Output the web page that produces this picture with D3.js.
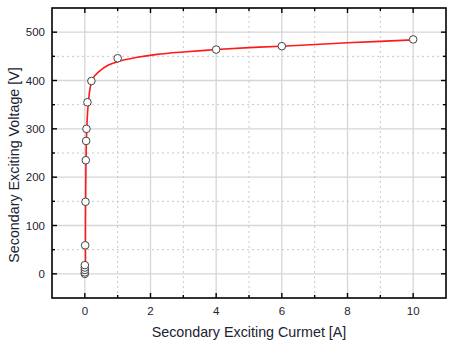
<!DOCTYPE html>
<html lang="en">
<head>
    <meta charset="UTF-8">
    <title>Secondary Exciting Characteristic</title>
    <script src="https://d3js.org/d3.v7.min.js"></script>
    <style>
        body {
            margin: 0;
            background: #fff;
            font-family: "Liberation Sans", Arial, sans-serif;
        }
        .tick-label { font-size: 11.5px; fill: #1c2333; }
        .axis-title { font-size: 14.3px; fill: #1c2333; }
    </style>
</head>
<body>
    <div id="chart"></div>

    <script>
        // Dati misurati (corrente [A], tensione [V])
        const currentA = [0, 0, 0, 0, 0, 0.01, 0.02, 0.03, 0.04, 0.05, 0.08, 0.2, 1, 4, 6, 10];
        const voltageV = [0, 3, 8, 13, 18, 59, 149, 235, 275, 300, 355, 399, 446, 464, 471, 485];

        // Curva di fit
        const fitX = [0.02, 0.02, 0.03, 0.05, 0.08, 0.11, 0.16, 0.25, 0.42, 0.72, 1.0, 1.6, 2.2, 3, 4, 5, 6, 8, 10];
        const fitY = [0, 100, 200, 280, 330, 355, 384, 405, 418, 432, 439, 448, 454, 459, 464, 468, 471, 478, 484];

        // Tick
        const xMajor = [0, 2, 4, 6, 8, 10];
        const xMinor = [1, 3, 5, 7, 9];
        const yMajor = [0, 100, 200, 300, 400, 500];
        const yMinor = [50, 150, 250, 350, 450];

        const width = 457, height = 349;
        const margin = { left: 52, right: 11, top: 8, bottom: 51 };

        const svg = d3.select("#chart")
            .append("svg")
            .attr("width", width)
            .attr("height", height);

        const x = d3.scaleLinear().domain([-1, 11]).range([margin.left, width - margin.right]);
        const y = d3.scaleLinear().domain([-50, 550]).range([height - margin.bottom, margin.top]);

        const x0 = margin.left, x1 = width - margin.right;
        const y0 = height - margin.bottom, y1 = margin.top;

        // Griglia: principale continua, secondaria a punti
        const grid = svg.append("g");
        grid.selectAll(".gx").data(xMajor).enter().append("line")
            .attr("x1", d => x(d)).attr("x2", d => x(d))
            .attr("y1", y0).attr("y2", y1)
            .attr("stroke", "#d6d6d6").attr("stroke-width", 1.3);
        grid.selectAll(".gy").data(yMajor).enter().append("line")
            .attr("x1", x0).attr("x2", x1)
            .attr("y1", d => y(d)).attr("y2", d => y(d))
            .attr("stroke", "#d6d6d6").attr("stroke-width", 1.3);
        grid.selectAll(".mx").data(xMinor).enter().append("line")
            .attr("x1", d => x(d)).attr("x2", d => x(d))
            .attr("y1", y0).attr("y2", y1)
            .attr("stroke", "#c8c8c8").attr("stroke-width", 1)
            .attr("stroke-dasharray", "2,3");
        grid.selectAll(".my").data(yMinor).enter().append("line")
            .attr("x1", x0).attr("x2", x1)
            .attr("y1", d => y(d)).attr("y2", d => y(d))
            .attr("stroke", "#c8c8c8").attr("stroke-width", 1)
            .attr("stroke-dasharray", "2,3");

        // Curva
        const fitData = fitX.map((d, i) => [d, fitY[i]]);
        const line = d3.line()
            .x(d => x(d[0]))
            .y(d => y(d[1]))
            .curve(d3.curveCatmullRom.alpha(0.5));
        svg.append("path")
            .datum(fitData)
            .attr("d", line)
            .attr("fill", "none")
            .attr("stroke", "#ff1a1a")
            .attr("stroke-width", 1.6);

        // Punti
        const pts = currentA.map((d, i) => [d, voltageV[i]]);
        svg.selectAll(".pt").data(pts).enter().append("circle")
            .attr("cx", d => x(d[0]))
            .attr("cy", d => y(d[1]))
            .attr("r", 3.8)
            .attr("fill", "#fff")
            .attr("stroke", "#444")
            .attr("stroke-width", 1);

        // Cornice
        svg.append("rect")
            .attr("x", x0).attr("y", y1)
            .attr("width", x1 - x0).attr("height", y0 - y1)
            .attr("fill", "none").attr("stroke", "#000").attr("stroke-width", 1.6);

        // Tick verso l'interno su tutti i lati
        const ticks = svg.append("g").attr("stroke", "#000").attr("stroke-width", 1.4);
        const addXTicks = (vals, len) => {
            vals.forEach(v => {
                ticks.append("line").attr("x1", x(v)).attr("x2", x(v)).attr("y1", y0).attr("y2", y0 - len);
                ticks.append("line").attr("x1", x(v)).attr("x2", x(v)).attr("y1", y1).attr("y2", y1 + len);
            });
        };
        const addYTicks = (vals, len) => {
            vals.forEach(v => {
                ticks.append("line").attr("y1", y(v)).attr("y2", y(v)).attr("x1", x0).attr("x2", x0 + len);
                ticks.append("line").attr("y1", y(v)).attr("y2", y(v)).attr("x1", x1).attr("x2", x1 - len);
            });
        };
        addXTicks(xMajor, 5);
        addXTicks(xMinor, 3);
        addYTicks(yMajor, 5);
        addYTicks(yMinor, 3);

        // Etichette
        svg.selectAll(".xl").data(xMajor).enter().append("text")
            .attr("class", "tick-label")
            .attr("x", d => x(d))
            .attr("y", y0 + 17)
            .attr("text-anchor", "middle")
            .text(d => d);
        svg.selectAll(".yl").data(yMajor).enter().append("text")
            .attr("class", "tick-label")
            .attr("x", x0 - 7)
            .attr("y", d => y(d) + 4)
            .attr("text-anchor", "end")
            .text(d => d);

        svg.append("text")
            .attr("class", "axis-title")
            .attr("x", (x0 + x1) / 2)
            .attr("y", y0 + 39)
            .attr("text-anchor", "middle")
            .text("Secondary Exciting Curmet [A]");
        svg.append("text")
            .attr("class", "axis-title")
            .attr("transform", "translate(19,165) rotate(-90)")
            .attr("text-anchor", "middle")
            .text("Secondary Exciting Voltage [V]");
    </script>
</body>
</html>
